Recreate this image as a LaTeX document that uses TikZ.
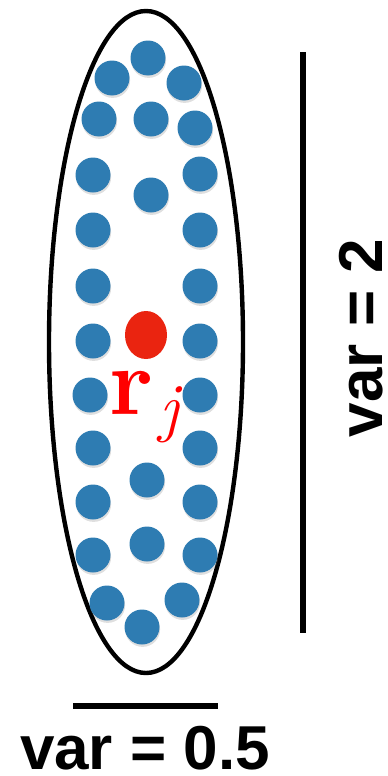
\documentclass[tikz,border=0pt]{standalone}
\usepackage{fontspec}
\newfontfamily\labelfont{Liberation Sans}
\usepackage{tikz}
\usetikzlibrary{shadows}

\definecolor{dotblue}{RGB}{46,124,178}
\definecolor{dotred}{RGB}{234,36,16}

\begin{document}
\begin{tikzpicture}[x=0.5pt, y=-0.5pt,
    bluedot/.style={circle, fill=dotblue, minimum size=17.5pt, inner sep=0pt,
                    drop shadow={shadow xshift=0.3pt, shadow yshift=-1.2pt, opacity=0.25}},
    varlabel/.style={font=\labelfont\bfseries\fontsize{31}{31}\selectfont, inner sep=0pt},
    bar/.style={line width=2.8pt}]
  \useasboundingbox (0,0) rectangle (387,776);

  % cluster outline
  \draw[line width=2.2pt] (146,342) ellipse [x radius=97, y radius=331];

  % points of the cluster
  \foreach \px/\py [count=\i] in {148/58, 112/78, 184/83, 99/119, 151/119, 195/128,
      93/175, 151/195, 200/174, 93/230, 200/230, 93/286, 200/286,
      93/341, 200/341, 90/395, 200/395, 93/448, 200/448, 147/480,
      93/502, 200/502, 93/555, 147/544, 200/555, 107/603, 182/600, 142/627}
    \node[bluedot] (p\i) at (\px,\py) {};

  % centre of the cluster
  \fill[dotred] (146,335) ellipse [x radius=21, y radius=24];
  \node[text=red, anchor=base west, inner sep=0pt]
       (rj) at (109,414) {{\fontsize{48}{48}\selectfont\bfseries r}\hspace{3pt}%
                          \raisebox{-7.5pt}{\fontsize{33}{33}\selectfont\itshape j}};

  % spread along the two axes
  \draw[bar] (303,52) -- (303,633);
  \node[varlabel, rotate=90, anchor=base] (vvar) at (382,338) {var = 2};
  \draw[bar] (73,706) -- (218,706);
  \node[varlabel, anchor=base] (hvar) at (145,769) {var = 0.5};
\end{tikzpicture}
\end{document}
